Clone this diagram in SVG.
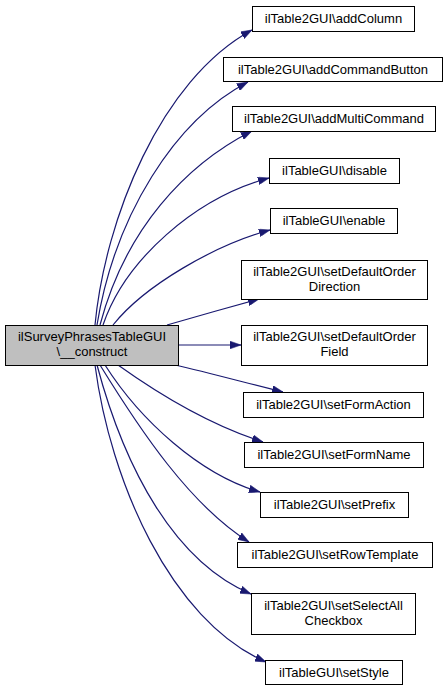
<svg xmlns="http://www.w3.org/2000/svg" width="447" height="692" viewBox="0 0 447 692">
<style>
.n rect{fill:#fff;stroke:#000;stroke-width:1}
.n.main rect{fill:#bfbfbf}
text{font-family:"Liberation Sans",Arial,sans-serif;font-size:13px;fill:#000;text-anchor:middle}
.e path{fill:none;stroke:#191970;stroke-width:1.2;marker-end:url(#ah)}
</style>
<defs>
<marker id="ah" viewBox="0 0 10 7" refX="10" refY="3.5" markerWidth="11" markerHeight="8" markerUnits="userSpaceOnUse" orient="auto">
<path d="M0,0 L10,3.5 L0,7 z" fill="#191970" stroke="#191970" stroke-width="0.5"/>
</marker>
</defs>
<rect width="447" height="692" fill="#fff"/>
<g id="edges" class="e">
<path d="M95,325 C105,220 160,80 252,30"/>
<path d="M97,325 C115,215 175,120 248,82"/>
<path d="M100,325 C125,230 185,165 252,131"/>
<path d="M103,325 C125,260 195,198 269,178"/>
<path d="M113,325 C145,285 215,245 270,230"/>
<path d="M167,325 C195,317 230,307 259,299"/>
<path d="M178,345 L241,345"/>
<path d="M175,365 C210,373 250,384 283,392"/>
<path d="M118,365 C160,395 210,425 263,442"/>
<path d="M105,365 C140,420 200,475 260,492"/>
<path d="M100,365 C140,430 190,505 249,542"/>
<path d="M97,365 C125,470 175,562 251,594"/>
<path d="M95,365 C110,480 170,620 266,662"/>
</g>
<g id="main" class="n main"><rect x="5.5" y="325.5" width="173" height="40"/><text x="92" y="341">ilSurveyPhrasesTableGUI</text><text x="92" y="356">\__construct</text></g>
<g id="addColumn" class="n"><rect x="252.5" y="6.5" width="162" height="25"/><text x="333.5" y="23">ilTable2GUI\addColumn</text></g>
<g id="addCommandButton" class="n"><rect x="223.5" y="57.5" width="219" height="24"/><text x="333" y="74">ilTable2GUI\addCommandButton</text></g>
<g id="addMultiCommand" class="n"><rect x="232.5" y="106.5" width="203" height="25"/><text x="334" y="123">ilTable2GUI\addMultiCommand</text></g>
<g id="disable" class="n"><rect x="269.5" y="158.5" width="130" height="25"/><text x="334.5" y="175">ilTableGUI\disable</text></g>
<g id="enable" class="n"><rect x="270.5" y="208.5" width="127" height="25"/><text x="334" y="225">ilTableGUI\enable</text></g>
<g id="setDefaultOrderDirection" class="n"><rect x="241.5" y="260.5" width="186" height="39"/><text x="334.5" y="276">ilTable2GUI\setDefaultOrder</text><text x="334.5" y="291">Direction</text></g>
<g id="setDefaultOrderField" class="n"><rect x="241.5" y="325.5" width="186" height="40"/><text x="334.5" y="341">ilTable2GUI\setDefaultOrder</text><text x="334.5" y="356">Field</text></g>
<g id="setFormAction" class="n"><rect x="243.5" y="392.5" width="180" height="25"/><text x="333.5" y="409">ilTable2GUI\setFormAction</text></g>
<g id="setFormName" class="n"><rect x="244.5" y="442.5" width="179" height="25"/><text x="334" y="459">ilTable2GUI\setFormName</text></g>
<g id="setPrefix" class="n"><rect x="260.5" y="492.5" width="148" height="25"/><text x="334.5" y="509">ilTable2GUI\setPrefix</text></g>
<g id="setRowTemplate" class="n"><rect x="237.5" y="542.5" width="195" height="25"/><text x="335" y="559">ilTable2GUI\setRowTemplate</text></g>
<g id="setSelectAllCheckbox" class="n"><rect x="251.5" y="593.5" width="164" height="41"/><text x="333.5" y="610">ilTable2GUI\setSelectAll</text><text x="333.5" y="625">Checkbox</text></g>
<g id="setStyle" class="n"><rect x="265.5" y="660.5" width="137" height="24"/><text x="334" y="677">ilTableGUI\setStyle</text></g>
</svg>
